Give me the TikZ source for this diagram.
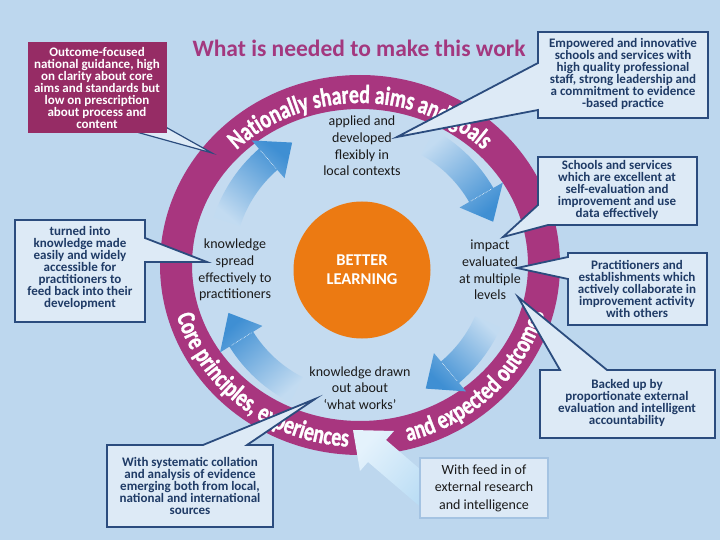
\documentclass[tikz,border=0pt]{standalone}
\usepackage{fontspec}
\setmainfont{Carlito}
\newfontfamily\ringfont{Carlito}[FakeStretch=0.76,FakeBold=1.2]
\usetikzlibrary{decorations.text,calc}
\definecolor{bgc}{HTML}{BDD7EE}
\definecolor{discc}{HTML}{C4DBF0}
\definecolor{ringc}{HTML}{A8367F}
\definecolor{titlec}{HTML}{A3387F}
\definecolor{maroonc}{HTML}{962C65}
\definecolor{callf}{HTML}{DDEAF6}
\definecolor{callb}{HTML}{2B4C7E}
\definecolor{callt}{HTML}{1F3B66}
\definecolor{orangec}{HTML}{EC7A12}
\definecolor{arrhead}{HTML}{3F8FD3}
\definecolor{arrtail}{HTML}{C2DBF1}
\definecolor{feedb}{HTML}{A4C3E2}
\definecolor{feedf}{HTML}{DCE9F6}
\definecolor{feedtip}{HTML}{E4F2FC}
\definecolor{feedtail}{HTML}{B3D9F3}
\definecolor{inktext}{HTML}{1A1A1A}
\newcommand\ringstyle{\ringfont\bfseries\fontsize{26}{26}\selectfont}
\newcommand\carrow[4]{%
 \shade[top color=arrhead, bottom color=arrtail, shading angle=#4]
  ($(C)+(#1:154pt)$) arc[start angle=#1, end angle=#2, radius=154pt]
  -- ($(C)+(#2:165pt)$) -- ($(C)+(#3:140pt)$) -- ($(C)+(#2:115pt)$) -- ($(C)+(#2:126pt)$)
  arc[start angle=#2, end angle=#1, radius=126pt] -- cycle;
 \draw[white, densely dotted, line width=0.6pt] ($(C)+(#2:128pt)$) -- ($(C)+(#2:152pt)$);
}
\begin{document}
\begin{tikzpicture}[x=1pt,y=1pt,
  calloutbox/.style={fill=callf, draw=callb, line width=1.8pt, line join=miter},
  callouttext/.style={text=callt, align=center, font=\bfseries\fontsize{13}{12}\selectfont, inner sep=0pt},
  innertext/.style={text=inktext, align=center, font=\fontsize{14}{16.7}\selectfont, inner sep=0pt},
  ringtext/.style={decorate, decoration={text along path, text align=center, text color=white, text={|\ringstyle|#1}}},
]
\useasboundingbox (0,0) rectangle (720,-540);
\fill[bgc] (0,0) rectangle (720,-540);
\coordinate (C) at (360,-265);
% disc and ring
\fill[discc] (C) ellipse[x radius=168pt, y radius=156pt];
\fill[ringc, even odd rule] (C) ellipse[x radius=200pt, y radius=190pt] (C) ellipse[x radius=168pt, y radius=156pt];
\path[ringtext={Nationally shared aims and goals}] ($(C)+(150:175pt and 162pt)$) arc[start angle=150, end angle=30, x radius=175pt, y radius=162pt];
\path[ringtext={Core principles, experiences}] ($(C)+(181:191pt and 182pt)$) arc[start angle=181, end angle=281, x radius=191pt, y radius=182pt];
\path[ringtext={and expected outcomes}] ($(C)+(-94:191pt and 182pt)$) arc[start angle=-94, end angle=4, x radius=191pt, y radius=182pt];
% inner cycle arrows
\carrow{162}{131}{119}{-40}
\carrow{61}{30}{18}{-140}
\carrow{-24}{-50}{-62}{137}
\carrow{243}{212}{200}{41.5}
% centre
\node[circle, fill=orangec, minimum size=137pt, inner sep=0pt, text=white, font=\bfseries\fontsize{16.5}{19}\selectfont, align=center] (better) at (362,-270) {BETTER\\LEARNING};
\node[innertext] (applied) at (362,-146) {applied and\\developed\\flexibly in\\local contexts};
\node[innertext] (spread) at (235,-270) {knowledge\\spread\\effectively to\\practitioners};
\node[innertext] (impact) at (490,-270) {impact\\evaluated\\at multiple\\levels};
\node[innertext] (drawn) at (360,-388) {knowledge drawn\\out about\\‘what works’};
% title
\node[text=titlec, font=\bfseries\fontsize{23.5}{26}\selectfont, inner sep=0pt] (title) at (359,-48) {What is needed to make this work};
% outcome box
\filldraw[fill=callf, draw=callb, line width=1.2pt] (140,-133) -- (212,-153) -- (162,-125) -- cycle;
\fill[maroonc] (28,-42) rectangle (167,-133);
\node[text=white, align=center, font=\bfseries\fontsize{13}{12}\selectfont, inner sep=0pt] (outcome) at (97,-88) {Outcome-focused\\national guidance, high\\on clarity about core\\aims and standards but\\low on prescription\\about process and\\content};
% empowered
\filldraw[calloutbox] (538,-32) -- (708,-32) -- (708,-118) -- (538,-118) -- (538,-110) -- (397,-137) -- (538,-63) -- cycle;
\node[callouttext] (empowered) at (623,-74) {Empowered and innovative\\schools and services with\\high quality professional\\staff, strong leadership and\\a commitment to evidence\\-based practice};
% schools
\filldraw[calloutbox] (538,-157) -- (697,-157) -- (697,-225) -- (548,-225) -- (503,-237) -- (538,-205) -- cycle;
\node[callouttext] (schools) at (617,-190) {Schools and services\\which are excellent at\\self-evaluation and\\improvement and use\\data effectively};
% practitioners
\filldraw[calloutbox] (568,-253) -- (707,-253) -- (707,-325) -- (568,-325) -- (568,-279) -- (517,-268) -- (568,-257) -- cycle;
\node[callouttext] (practitioners) at (637,-289) {Practitioners and\\establishments which\\actively collaborate in\\improvement activity\\with others};
% backed
\filldraw[calloutbox] (540,-370) -- (560,-370) -- (518,-297) -- (607,-370) -- (715,-370) -- (715,-438) -- (540,-438) -- cycle;
\node[callouttext] (backed) at (627,-403) {Backed up by\\proportionate external\\evaluation and intelligent\\accountability};
% turned
\filldraw[calloutbox] (15,-220) -- (145,-220) -- (145,-238) -- (207,-262) -- (145,-262) -- (145,-322) -- (15,-322) -- cycle;
\node[callouttext] (turned) at (80,-268) {turned into\\knowledge made\\easily and widely\\accessible for\\practitioners to\\feed back into their\\development};
% systematic
\filldraw[calloutbox] (107,-445) -- (203,-445) -- (315,-399) -- (247,-445) -- (273,-445) -- (273,-527) -- (107,-527) -- cycle;
\node[callouttext] (systematic) at (190,-486) {With systematic collation\\and analysis of evidence\\emerging both from local,\\national and international\\sources};
% feed in arrow and box
\shade[top color=feedtip, bottom color=feedtail, shading angle=49] (449,-494) -- (386,-440) -- (394,-431) -- (353,-430) -- (360,-471) -- (368,-462) -- (431,-516) -- cycle;
\filldraw[fill=feedf, draw=feedb, line width=2.5pt] (420,-458) rectangle (548,-518);
\node[text=inktext, align=center, font=\fontsize{14}{17.5}\selectfont, inner sep=0pt] (feed) at (484,-488) {With feed in of\\external research\\and intelligence};
\end{tikzpicture}
\end{document}
